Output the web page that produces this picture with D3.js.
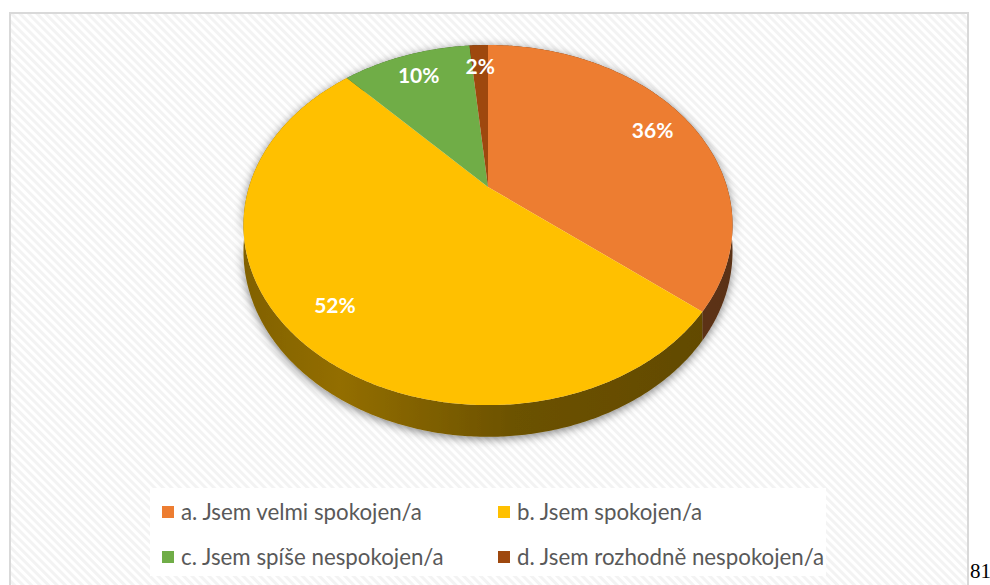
<!DOCTYPE html>
<html>
<head>
<meta charset="utf-8">
<script src="https://cdn.jsdelivr.net/npm/d3@7"></script>
<style>
  body { margin: 0; background: #fff; }
  svg { display: block; }
</style>
</head>
<body>
<div id="root"></div>
<script>
const categories = [
  "a. Jsem velmi spokojen/a",
  "b. Jsem spokojen/a",
  "c. Jsem spíše nespokojen/a",
  "d. Jsem rozhodně nespokojen/a",
];
// respondent counts (36 %, 52 %, 10 %, 2 %)
const values = [24, 35, 7, 1];
const valueLabels = ["36%", "52%", "10%", "2%"];
const colors = ["#ed7d31", "#ffc000", "#70ad47", "#9e480e"];

const width = 990;
const height = 585;

// pie geometry (perspective-ish projection of a flat disc)
const cx = 488;
const cy = 187;
const R = 239;
const Rk = 172;
const D = 4.73;
const depth = 25;

function proj(theta, r, dz) {
  const u = r * Math.sin(theta);
  const v = r * Math.cos(theta);
  const s = D / (D + v);
  return [cx + R * u * s, cy - Rk * v * s + dz * s];
}

function arcPoints(a0, a1, r, dz) {
  const n = Math.max(2, Math.ceil((a1 - a0) / 0.01));
  return d3.range(n + 1).map((i) => proj(a0 + ((a1 - a0) * i) / n, r, dz));
}

const svg = d3
  .select("#root")
  .append("svg")
  .attr("width", width)
  .attr("height", height)
  .attr("viewBox", `0 0 ${width} ${height}`);

const defs = svg.append("defs");

const hatch = defs
  .append("pattern")
  .attr("id", "hatch")
  .attr("patternUnits", "userSpaceOnUse")
  .attr("width", 6)
  .attr("height", 6)
  .attr("patternTransform", "rotate(45)");
hatch.append("rect").attr("width", 6).attr("height", 6).attr("fill", "#ffffff");
hatch.append("rect").attr("width", 6).attr("height", 3).attr("fill", "#f3f3f3");

const shadow = defs
  .append("filter")
  .attr("id", "shadow")
  .attr("x", "-20%")
  .attr("y", "-20%")
  .attr("width", "140%")
  .attr("height", "140%");
shadow
  .append("feDropShadow")
  .attr("dx", 0)
  .attr("dy", 2)
  .attr("stdDeviation", 5)
  .attr("flood-color", "#000")
  .attr("flood-opacity", 0.5);

colors.forEach((c, i) => {
  const g = defs
    .append("linearGradient")
    .attr("id", `side-${i}`)
    .attr("gradientUnits", "userSpaceOnUse")
    .attr("x1", cx - R * 1.03)
    .attr("x2", cx + R * 1.03)
    .attr("y1", 0)
    .attr("y2", 0);
  [
    [0, 1.9],
    [0.2, 1.55],
    [0.55, 2.4],
    [1, 2.7],
  ].forEach(([o, k]) => {
    g.append("stop")
      .attr("offset", o)
      .attr("stop-color", d3.color(c).darker(k).formatHex());
  });
});

// chart area with hatched fill and frame
svg
  .append("rect")
  .attr("x", 10)
  .attr("y", 13)
  .attr("width", 958)
  .attr("height", 600)
  .attr("fill", "url(#hatch)")
  .attr("stroke", "#d9d9d9")
  .attr("stroke-width", 2);

const pie = d3.pie().sort(null).value((d) => d)(values);

const line = d3.line();

// side walls
const sides = svg.append("g").attr("filter", "url(#shadow)");
pie.forEach((p, i) => {
  const top = arcPoints(p.startAngle, p.endAngle, 1, 0);
  const bottom = arcPoints(p.startAngle, p.endAngle, 1, depth).reverse();
  sides
    .append("path")
    .attr("d", line(top.concat(bottom)) + "Z")
    .attr("fill", `url(#side-${i})`);
});

// top faces
const tops = svg.append("g");
pie.forEach((p, i) => {
  const pts = [proj(0, 0, 0)].concat(arcPoints(p.startAngle, p.endAngle, 1, 0));
  tops
    .append("path")
    .attr("d", line(pts) + "Z")
    .attr("fill", colors[i]);
});

// data labels
pie.forEach((p, i) => {
  const mid = (p.startAngle + p.endAngle) / 2;
  const [x, y] = proj(mid, 0.82, 0);
  svg
    .append("text")
    .attr("x", x)
    .attr("y", y)
    .attr("dy", "0.35em")
    .attr("text-anchor", "middle")
    .attr("font-family", "Lato, 'Open Sans', sans-serif")
    .attr("font-weight", "bold")
    .attr("font-size", 21)
    .attr("fill", "#ffffff")
    .text(valueLabels[i]);
});

// legend
svg
  .append("rect")
  .attr("x", 150)
  .attr("y", 488)
  .attr("width", 676)
  .attr("height", 88)
  .attr("fill", "#ffffff");

const legendPos = [
  [162, 512],
  [498, 512],
  [162, 557],
  [498, 557],
];
const legend = svg.append("g");
categories.forEach((c, i) => {
  const [x, y] = legendPos[i];
  legend
    .append("rect")
    .attr("x", x)
    .attr("y", y - 6)
    .attr("width", 12)
    .attr("height", 12)
    .attr("fill", colors[i]);
  legend
    .append("text")
    .attr("x", x + 19)
    .attr("y", y)
    .attr("dy", "0.35em")
    .attr("font-family", "Lato, 'Open Sans', sans-serif")
    .attr("font-size", 22.3)
    .attr("fill", "#595959")
    .text(c);
});

// page number
svg
  .append("text")
  .attr("x", 970)
  .attr("y", 578)
  .attr("font-family", "'Liberation Serif', 'Times New Roman', serif")
  .attr("font-size", 21)
  .attr("fill", "#000")
  .text("81");
</script>
</body>
</html>
